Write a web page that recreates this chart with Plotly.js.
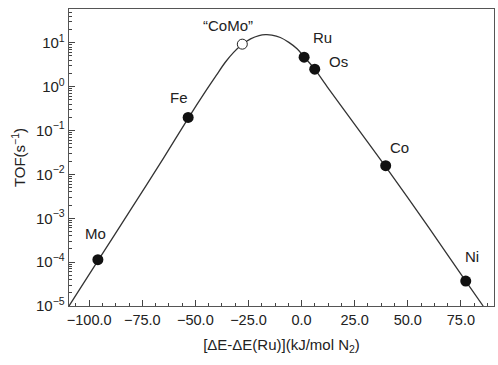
<!DOCTYPE html>
<html>
<head>
<meta charset="utf-8">
<script src="https://cdn.plot.ly/plotly-3.0.1.min.js"></script>
<style>html,body{margin:0;padding:0;background:#fff;}#chart{width:498px;height:365px;}</style>
</head>
<body>
<div id="chart"></div>
<script>
// Metals: x = ΔE-ΔE(Ru) (kJ/mol N2), y = TOF (s^-1)
const metals = ["Mo", "Fe", "Ru", "Os", "Co", "Ni"];
const metalX = [-95.9, -53.4, 1.2, 6.2, 39.6, 77.3];
const metalTOF = [1.14e-4, 0.199, 4.7, 2.5, 0.0158, 3.7e-5];

const comoLabel = "“CoMo”";
const comoX = [-27.9];
const comoTOF = [9.3];

// Volcano curve
const curveX = [-109.5, -96, -80, -65, -53.4, -45, -40, -36, -32, -28, -24, -20, -17, -14, -10, -6, -2, 1.2, 6.2, 12, 20, 40, 60, 77.3, 85.5];
const curveTOF = [1.0e-5, 1.05e-4, 1.70e-3, 0.0234, 0.19, 0.81, 1.86, 3.55, 6.03, 9.12, 12.3, 14.6, 15.3, 15.0, 13.2, 10.2, 7.24, 4.79, 2.51, 1.0, 0.295, 0.0141, 6.0e-4, 3.7e-5, 1.0e-5];

// Label positions (data coords; y as log10)
const labelX = [-96.9, -57.5, 9.7, 17.2, 46.3, 80.4];
const labelLogY = [-3.34, -0.24, 1.13, 0.58, -1.38, -3.87];
const comoLabelX = -34.5, comoLabelLogY = 1.40;

const xTickVals = [-100, -75, -50, -25, 0, 25, 50, 75];
const yTickVals = [1e-5, 1e-4, 1e-3, 1e-2, 1e-1, 1, 10];
const yTickText = ["10<sup>−5</sup>", "10<sup>−4</sup>", "10<sup>−3</sup>", "10<sup>−2</sup>", "10<sup>−1</sup>", "10<sup>0</sup>", "10<sup>1</sup>"];

const FONT = "Liberation Sans, Arial, Helvetica, sans-serif";
const TXT = "#222";

const traces = [
  {x: curveX, y: curveTOF, type: "scatter", mode: "lines",
   line: {color: "#333", width: 1.3, shape: "spline", smoothing: 0.8}, hoverinfo: "skip", cliponaxis: true},
  {x: metalX, y: metalTOF, type: "scatter", mode: "markers",
   marker: {color: "#111", size: 11, line: {width: 0}}},
  {x: comoX, y: comoTOF, type: "scatter", mode: "markers",
   marker: {color: "rgba(255,255,255,1)", size: 10, line: {color: "#222", width: 1}}}
];

const annotations = metals.map((m, i) => ({
  x: labelX[i], y: labelLogY[i], xref: "x", yref: "y", text: m, showarrow: false,
  font: {family: FONT, size: 15, color: TXT}
}));
annotations.push({x: comoLabelX, y: comoLabelLogY, xref: "x", yref: "y", text: comoLabel,
  showarrow: false, font: {family: FONT, size: 15, color: TXT}});

const layout = {
  width: 498, height: 365,
  margin: {l: 69, r: 4, t: 9, b: 59},
  paper_bgcolor: "#fff", plot_bgcolor: "#fff",
  showlegend: false,
  font: {family: FONT, color: TXT},
  xaxis: {
    range: [-109.5, 90.6], tickvals: xTickVals, tickformat: ".1f",
    ticks: "inside", ticklen: 6, tickwidth: 1, tickcolor: "#444",
    minor: {dtick: 6.25, tick0: 0, ticks: "inside", ticklen: 3, tickcolor: "#444"},
    showline: true, linecolor: "#555", linewidth: 1.3, mirror: true,
    showgrid: false, zeroline: false,
    tickfont: {family: FONT, size: 14.5, color: TXT},
    title: {text: "[ΔE-ΔE(Ru)](kJ/mol N<sub>2</sub>)", font: {family: FONT, size: 15, color: TXT}, standoff: 12}
  },
  yaxis: {
    type: "log", range: [-5, 1.77], tickvals: yTickVals, ticktext: yTickText,
    ticks: "inside", ticklen: 6, tickwidth: 1, tickcolor: "#444",
    minor: {dtick: "D1", ticks: "inside", ticklen: 3, tickcolor: "#444"},
    showline: true, linecolor: "#555", linewidth: 1.3, mirror: true,
    showgrid: false, zeroline: false,
    tickfont: {family: FONT, size: 15, color: TXT},
    title: {text: "TOF(s<sup>−1</sup>)", font: {family: FONT, size: 15, color: TXT}, standoff: 6}
  },
  annotations: annotations
};

Plotly.newPlot("chart", traces, layout, {displayModeBar: false, staticPlot: true});
</script>
</body>
</html>
